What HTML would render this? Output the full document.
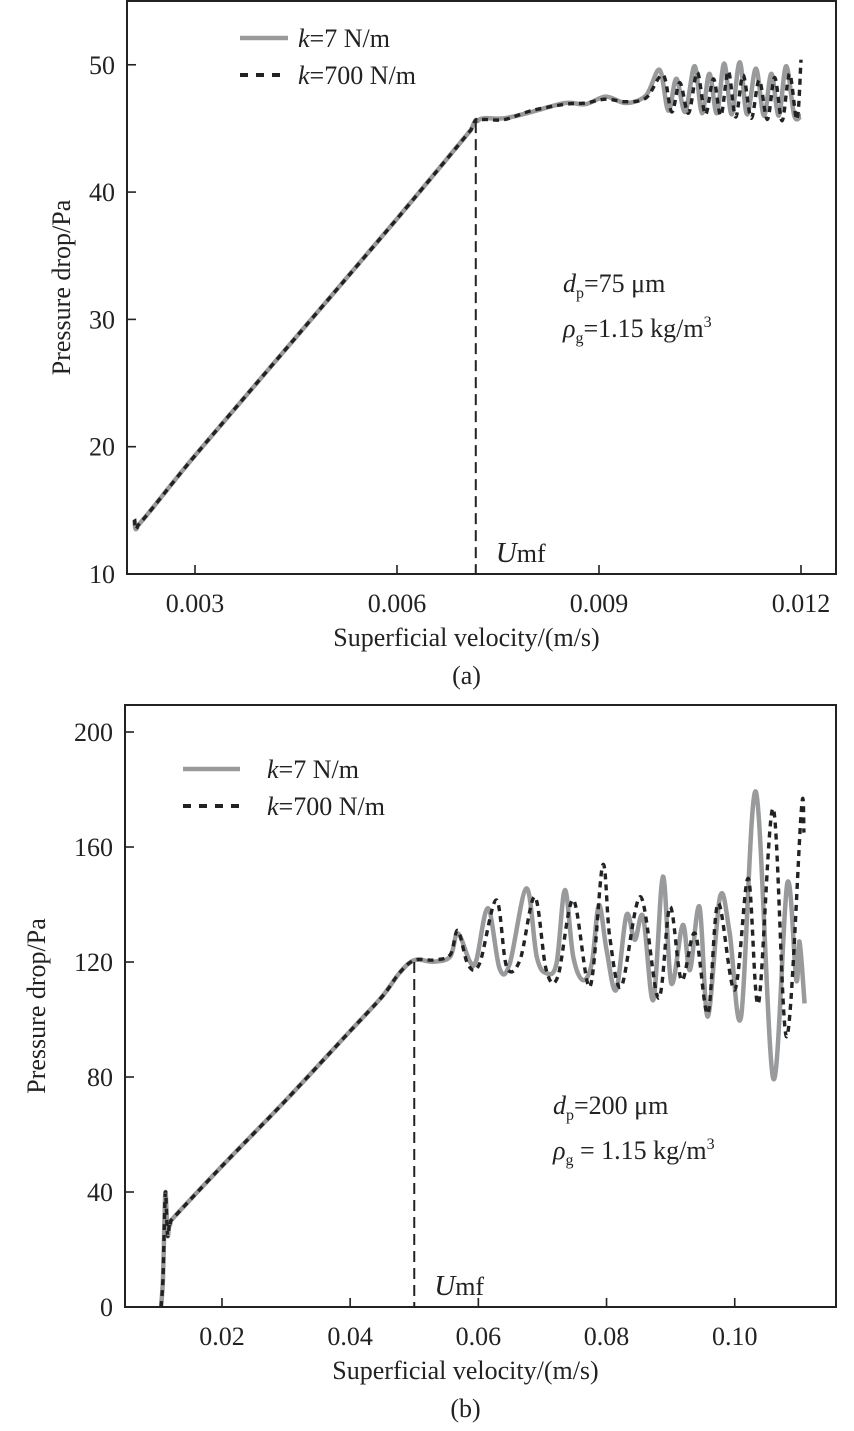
<!DOCTYPE html>
<html><head><meta charset="utf-8"><style>
body{margin:0;background:#fff;}
svg{display:block;font-family:"Liberation Serif",serif;}
</style></head><body>
<svg id="fig" width="854" height="1431" viewBox="0 0 854 1431"></svg>
<script>
// ---------- Chart (a) data ----------
const aXTicks=[0.003,0.006,0.009,0.012];
const aXTickLabels=["0.003","0.006","0.009","0.012"];
const aYTicks=[10,20,30,40,50];
const aGrayX=[0.0021,0.00215,0.0030,0.0045,0.0060,0.0071,0.0072,0.0073,0.0076,0.0080,0.0085,0.0088,0.0091,0.0094,0.0097,0.0099,0.01003,0.01015,0.01028,0.01042,0.01053,0.01064,0.01075,0.01086,0.01097,0.01109,0.0112,0.01133,0.01145,0.01156,0.01167,0.01178,0.0119,0.0120];
const aGrayY=[14.3,13.8,19.3,28.6,37.9,44.9,45.6,45.8,45.8,46.3,47.0,46.9,47.5,47.0,47.6,49.6,46.4,48.9,46.3,49.9,46.2,49.3,46.2,50.1,46.1,50.2,46.1,49.7,46.0,49.3,46.0,49.9,46.0,46.0];
const aBlackX=[0.0021,0.00215,0.0030,0.0045,0.0060,0.0071,0.0072,0.0073,0.0076,0.0080,0.0085,0.0088,0.0091,0.0094,0.0097,0.00995,0.01008,0.0102,0.01033,0.01046,0.01058,0.0107,0.01081,0.01092,0.01103,0.01114,0.01126,0.01138,0.0115,0.01161,0.01172,0.01183,0.01194,0.0120];
const aBlackY=[14.3,13.8,19.3,28.6,37.9,44.9,45.6,45.7,45.7,46.4,46.9,47.0,47.3,47.1,47.4,49.2,46.3,48.6,46.2,49.4,46.1,48.9,46.0,49.5,45.9,49.2,45.8,48.8,45.7,49.0,45.6,49.3,45.7,50.4];
// ---------- Chart (b) data ----------
const bXTicks=[0.02,0.04,0.06,0.08,0.10];
const bXTickLabels=["0.02","0.04","0.06","0.08","0.10"];
const bYTicks=[0,40,80,120,160,200];
const bBaseX=[0.0105,0.0108,0.011,0.0112,0.0115,0.0118,0.012,0.02,0.03,0.04,0.045];
const bBaseY=[0,10,28,40,25,29,30,49,72,96,108];
const bGrayX=[0.0478,0.0501,0.0530,0.0556,0.0568,0.0587,0.0597,0.0615,0.0633,0.0649,0.0675,0.0691,0.0706,0.0722,0.0735,0.0748,0.0763,0.0777,0.0788,0.0800,0.0815,0.0831,0.0844,0.0857,0.0873,0.0888,0.0901,0.0919,0.0930,0.0945,0.0958,0.0977,0.0992,0.1010,0.1033,0.1060,0.1082,0.1096,0.1101,0.1109];
const bGrayY=[116.5,120.7,120.1,121.9,130,120.1,120.7,138.7,117.8,119.5,145.6,121.9,116.1,119.5,145.0,121.9,113.7,119.5,139.8,124.3,110.3,136.3,127.7,135.8,106.8,149.7,112.6,132.9,117.2,139.2,101.0,142.7,130.3,101.0,179.2,79.5,147.4,113.7,127.1,105.6];
const bBlackX=[0.0478,0.0501,0.0530,0.0556,0.0568,0.0584,0.0602,0.0628,0.0644,0.0665,0.0688,0.0706,0.0724,0.0748,0.0774,0.0794,0.0805,0.0823,0.0853,0.0881,0.0899,0.0917,0.0938,0.0958,0.0974,0.1000,0.1021,0.1037,0.1060,0.1081,0.1104,0.1108];
const bBlackY=[116.5,120.7,120.7,122.5,131,119,119.5,141.6,118.4,120.7,142.7,117.2,114.9,141.6,111.4,153.7,128.8,111.4,142.7,107.4,139.2,113.7,130,102.1,140.4,110.3,149.1,105.6,173.4,94.0,173.0,165];

const NS="http://www.w3.org/2000/svg";
const svg=document.getElementById('fig');
function mk(tag,attrs,parent){const e=document.createElementNS(NS,tag);for(const k in attrs)e.setAttribute(k,attrs[k]);(parent||svg).appendChild(e);return e;}
function pathD(xs,ys,sx,sy){
  const p=xs.map((x,i)=>[sx(x),sy(ys[i])]);
  let d="M"+p[0][0].toFixed(1)+","+p[0][1].toFixed(1);
  for(let i=0;i<p.length-1;i++){
    const p0=p[Math.max(0,i-1)],p1=p[i],p2=p[i+1],p3=p[Math.min(p.length-1,i+2)];
    const c1=[p1[0]+(p2[0]-p0[0])/6,p1[1]+(p2[1]-p0[1])/6];
    const c2=[p2[0]-(p3[0]-p1[0])/6,p2[1]-(p3[1]-p1[1])/6];
    c1[0]=Math.min(Math.max(c1[0],p1[0]),p2[0]);c2[0]=Math.min(Math.max(c2[0],p1[0]),p2[0]);
    d+=" C"+c1[0].toFixed(1)+","+c1[1].toFixed(1)+" "+c2[0].toFixed(1)+","+c2[1].toFixed(1)+" "+p2[0].toFixed(1)+","+p2[1].toFixed(1);
  }
  return d;
}
function chart(cfg){
  const g=mk('g',{});
  
  
  const sx=v=>cfg.L+(v-cfg.xmin)/(cfg.xmax-cfg.xmin)*(cfg.R-cfg.L);
  const sy=v=>cfg.B-(v-cfg.ymin)/(cfg.ymax-cfg.ymin)*(cfg.B-cfg.T);
  const gp=mk('path',{d:pathD(cfg.gx,cfg.gy,sx,sy),fill:'none',stroke:'#989a9c','stroke-width':4.5,'stroke-linejoin':'round'},g);
  
  
  const bp=mk('path',{d:pathD(cfg.bx,cfg.by,sx,sy),fill:'none',stroke:'#222','stroke-width':3.4,'stroke-dasharray':'6,5'},g);
  
  
  const ul=mk('line',{x1:sx(cfg.umf),x2:sx(cfg.umf),y1:sy(cfg.umfY),y2:cfg.B,stroke:'#222','stroke-width':2,'stroke-dasharray':'11,6'},g);
  
  
  const ut=mk('text',{x:sx(cfg.umf)+20,y:cfg.B-12,'font-size':29,fill:'#222'},g);
  ut.innerHTML='<tspan font-style="italic">U</tspan><tspan font-size="26">mf</tspan>';
  
  
  const fr=mk('rect',{x:cfg.L,y:cfg.T,width:cfg.R-cfg.L,height:cfg.B-cfg.T,fill:'none',stroke:'#222','stroke-width':2},g);
  
  
  cfg.xt.forEach((v,i)=>{
    const x=sx(v);
    const t=mk('line',{x1:x,x2:x,y1:cfg.B,y2:cfg.B-9,stroke:'#222','stroke-width':1.6},g);
    
    
    const l=mk('text',{x:x,y:cfg.B+38,'font-size':26,'text-anchor':'middle',fill:'#222'},g);
    l.textContent=cfg.xl[i];
    
    
  });
  cfg.yt.forEach(v=>{
    const y=sy(v);
    const t=mk('line',{x1:cfg.L,x2:cfg.L+9,y1:y,y2:y,stroke:'#222','stroke-width':1.6},g);
    
    
    const l=mk('text',{x:cfg.L-12,y:y+9,'font-size':26,'text-anchor':'end',fill:'#222'},g);
    l.textContent=String(v);
    
    
  });
  const xt=mk('text',{x:(cfg.L+cfg.R)/2-15,y:cfg.B+72,'font-size':26,'text-anchor':'middle',fill:'#222'},g);
  xt.textContent='Superficial velocity/(m/s)';
  
  
  const cap=mk('text',{x:(cfg.L+cfg.R)/2-15,y:cfg.B+110,'font-size':26,'text-anchor':'middle',fill:'#222'},g);
  cap.textContent=cfg.cap;
  
  
  const yc=(cfg.T+cfg.B)/2+cfg.ytOff;
  const yt=mk('text',{x:0,y:0,'font-size':26,'text-anchor':'middle',fill:'#222',transform:`translate(${cfg.ytX},${yc}) rotate(-90)`},g);
  yt.textContent='Pressure drop/Pa';
  
  
  const lg=mk('g',{},g);
  
  
  mk('line',{x1:cfg.lgX,x2:cfg.lgX+cfg.lgW,y1:cfg.lgY,y2:cfg.lgY,stroke:'#989a9c','stroke-width':4.5},lg);
  mk('line',{x1:cfg.lgX,x2:cfg.lgX+cfg.lgW,y1:cfg.lgY+37,y2:cfg.lgY+37,stroke:'#222','stroke-width':4,'stroke-dasharray':'8,8'},lg);
  const l1=mk('text',{x:cfg.lgX+cfg.lgT,y:cfg.lgY+9,'font-size':26,fill:'#222'},lg);
  l1.innerHTML='<tspan font-style="italic">k</tspan>=7 N/m';
  
  
  const l2=mk('text',{x:cfg.lgX+cfg.lgT,y:cfg.lgY+46,'font-size':26,fill:'#222'},lg);
  l2.innerHTML='<tspan font-style="italic">k</tspan>=700 N/m';
  
  
  const a1=mk('text',{x:cfg.anX,y:cfg.anY,'font-size':26,fill:'#222'},g);
  a1.innerHTML='<tspan font-style="italic">d</tspan><tspan font-size="16" dy="6">p</tspan><tspan dy="-6">='+cfg.dp+'</tspan>';
  
  
  const a2=mk('text',{x:cfg.anX,y:cfg.anY+45,'font-size':26,fill:'#222'},g);
  a2.innerHTML='<tspan font-style="italic">ρ</tspan><tspan font-size="16" dy="6">g</tspan><tspan dy="-6">'+cfg.rho+'</tspan><tspan font-size="16" dy="-10">3</tspan>';
  
  
}
chart({name:'chart-a',L:127,R:836,T:1,B:574,xmin:0.00199,xmax:0.01252,ymin:10,ymax:55.01,
  gx:aGrayX,gy:aGrayY,bx:aBlackX,by:aBlackY,umf:0.00717,umfY:45.5,
  xt:aXTicks,xl:aXTickLabels,yt:aYTicks,cap:'(a)',ytX:70,ytOff:0,
  lgX:240,lgY:38,lgW:48,lgT:58,anX:563,anY:292,dp:'75 μm',rho:'=1.15 kg/m'});
chart({name:'chart-b',L:125,R:836,T:705,B:1307,xmin:0.00487,xmax:0.1158,ymin:0,ymax:209.4,
  gx:bBaseX.concat(bGrayX),gy:bBaseY.concat(bGrayY),bx:bBaseX.concat(bBlackX),by:bBaseY.concat(bBlackY),umf:0.0500,umfY:120,
  xt:bXTicks,xl:bXTickLabels,yt:bYTicks,cap:'(b)',ytX:45,ytOff:0,
  lgX:183,lgY:769,lgW:57,lgT:84,anX:553,anY:1114,dp:'200 μm',rho:' = 1.15 kg/m'});
</script>
</body></html>
